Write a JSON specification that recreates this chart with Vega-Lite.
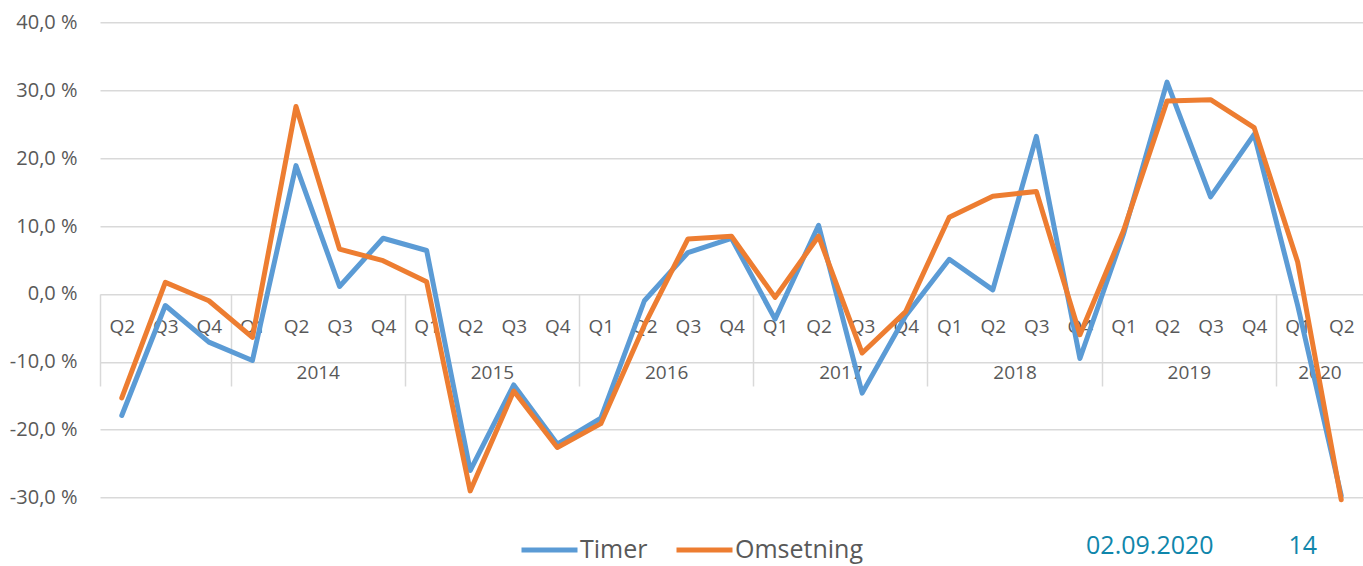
{
  "$schema": "https://vega.github.io/schema/vega-lite/v6.json",
  "width": 1263,
  "height": 475.4,
  "autosize": {"type": "none"},
  "padding": {"left": 100, "top": 22.3, "right": 0, "bottom": 68.3},
  "background": "white",
  "config": {"view": {"stroke": null}, "font": "Open Sans"},
  "data": {
    "values": [
      {"q": "2013-Q2", "Timer": -17.9, "Omsetning": -15.3},
      {"q": "2013-Q3", "Timer": -1.7, "Omsetning": 1.7},
      {"q": "2013-Q4", "Timer": -7.1, "Omsetning": -1.0},
      {"q": "2014-Q1", "Timer": -9.8, "Omsetning": -6.4},
      {"q": "2014-Q2", "Timer": 18.9, "Omsetning": 27.6},
      {"q": "2014-Q3", "Timer": 1.1, "Omsetning": 6.6},
      {"q": "2014-Q4", "Timer": 8.2, "Omsetning": 4.9},
      {"q": "2015-Q1", "Timer": 6.4, "Omsetning": 1.8},
      {"q": "2015-Q2", "Timer": -26.0, "Omsetning": -29.0},
      {"q": "2015-Q3", "Timer": -13.4, "Omsetning": -14.3},
      {"q": "2015-Q4", "Timer": -22.1, "Omsetning": -22.6},
      {"q": "2016-Q1", "Timer": -18.3, "Omsetning": -19.1},
      {"q": "2016-Q2", "Timer": -1.0, "Omsetning": -4.6},
      {"q": "2016-Q3", "Timer": 6.1, "Omsetning": 8.1},
      {"q": "2016-Q4", "Timer": 8.2, "Omsetning": 8.5},
      {"q": "2017-Q1", "Timer": -3.7, "Omsetning": -0.5},
      {"q": "2017-Q2", "Timer": 10.1, "Omsetning": 8.5},
      {"q": "2017-Q3", "Timer": -14.6, "Omsetning": -8.7},
      {"q": "2017-Q4", "Timer": -3.2, "Omsetning": -2.6},
      {"q": "2018-Q1", "Timer": 5.1, "Omsetning": 11.3},
      {"q": "2018-Q2", "Timer": 0.6, "Omsetning": 14.4},
      {"q": "2018-Q3", "Timer": 23.2, "Omsetning": 15.1},
      {"q": "2018-Q4", "Timer": -9.5, "Omsetning": -6.0},
      {"q": "2019-Q1", "Timer": 8.8, "Omsetning": 9.3},
      {"q": "2019-Q2", "Timer": 31.2, "Omsetning": 28.4},
      {"q": "2019-Q3", "Timer": 14.3, "Omsetning": 28.6},
      {"q": "2019-Q4", "Timer": 23.5, "Omsetning": 24.5},
      {"q": "2020-Q1", "Timer": -1.7, "Omsetning": 4.7},
      {"q": "2020-Q2", "Timer": -29.7, "Omsetning": -30.3}
    ]
  },
  "layer": [
    {
      "mark": {"type": "line", "strokeWidth": 5, "strokeCap": "round", "strokeJoin": "round"},
      "encoding": {
        "x": {
          "field": "q", "type": "ordinal", "sort": null,
          "scale": {"type": "point", "padding": 0.5},
          "axis": {
            "orient": "bottom", "offset": -203.7, "title": null, "domain": false, "ticks": false, "grid": false,
            "labelExpr": "split(datum.label,'-')[1]", "labelPadding": 32, "labelBaseline": "middle", "labelAngle": 0,
            "labelFontSize": 19, "labelColor": "#595959", "labelFont": "Open Sans", "labelOverlap": false, "labelBound": false, "labelFlush": false
          }
        },
        "y": {
          "field": "Timer", "type": "quantitative",
          "scale": {"domain": [-30, 40], "nice": false, "zero": false},
          "axis": {
            "title": null, "values": [-30, -20, -10, 0, 10, 20, 30, 40],
            "labelExpr": "(datum.value < 0 ? '-' : '') + replace(format(abs(datum.value), '.1f'), '.', ',') + ' %'",
            "domain": false, "ticks": false, "grid": true, "gridColor": "#d9d9d9", "gridWidth": 1.5,
            "labelPadding": 23, "labelFontSize": 20, "labelColor": "#595959", "labelFont": "Open Sans"
          }
        },
        "color": {
          "datum": "Timer", "type": "nominal",
          "scale": {"domain": ["Timer", "Omsetning"], "range": ["#5b9bd5", "#ed7d31"]},
          "legend": {
            "orient": "none", "legendX": 419, "legendY": 497, "direction": "horizontal", "title": null,
            "symbolType": "stroke", "symbolSize": 3136, "symbolStrokeWidth": 5,
            "labelFontSize": 25, "labelColor": "#595959", "labelFont": "Open Sans", "labelOffset": 0,
            "columnPadding": 18, "padding": 0
          }
        }
      }
    },
    {
      "mark": {"type": "line", "strokeWidth": 5, "strokeCap": "round", "strokeJoin": "round"},
      "encoding": {
        "x": {
          "field": "q", "type": "ordinal", "sort": null,
          "scale": {"type": "point", "padding": 0.5},
          "axis": {
            "orient": "bottom", "offset": -203.7, "title": null, "domain": false, "grid": false,
            "ticks": true, "tickSize": 92, "tickColor": "#d9d9d9", "tickWidth": 1.5, "tickOffset": -21.78,
            "tickOpacity": {"condition": {"test": "indexof(datum.value,'Q1') >= 0 || datum.value == '2013-Q2'", "value": 1}, "value": 0},
            "labelExpr": "datum.value == '2020-Q1' ? '2020' : ((indexof(datum.value,'Q2') >= 0 && datum.value != '2013-Q2' && datum.value != '2020-Q2') ? substring(datum.value, 0, 4) : '')",
            "labelOffset": 43.56, "labelPadding": -14, "labelBaseline": "middle", "labelAngle": 0,
            "labelFontSize": 19, "labelColor": "#595959", "labelFont": "Open Sans", "labelOverlap": false, "labelBound": false, "labelFlush": false
          }
        },
        "y": {
          "field": "Omsetning", "type": "quantitative",
          "scale": {"domain": [-30, 40], "nice": false, "zero": false}
        },
        "color": {"datum": "Omsetning", "type": "nominal"}
      }
    },
    {
      "data": {"values": [{"t": "02.09.2020"}]},
      "mark": {"type": "text", "align": "right", "baseline": "alphabetic", "fontSize": 25, "font": "Open Sans", "color": "#0f86ab", "dx": 3},
      "encoding": {
        "x": {"datum": "2019-Q3", "type": "ordinal", "axis": null},
        "y": {"datum": -38.3, "type": "quantitative", "scale": {"domain": [-30, 40], "nice": false, "zero": false}},
        "text": {"field": "t"}
      }
    },
    {
      "data": {"values": [{"t": "14"}]},
      "mark": {"type": "text", "align": "center", "baseline": "alphabetic", "fontSize": 25, "font": "Open Sans", "color": "#0f86ab", "dx": 5},
      "encoding": {
        "x": {"datum": "2020-Q1", "type": "ordinal", "axis": null},
        "y": {"datum": -38.3, "type": "quantitative", "scale": {"domain": [-30, 40], "nice": false, "zero": false}},
        "text": {"field": "t"}
      }
    }
  ],
  "resolve": {"axis": {"x": "independent"}}
}
